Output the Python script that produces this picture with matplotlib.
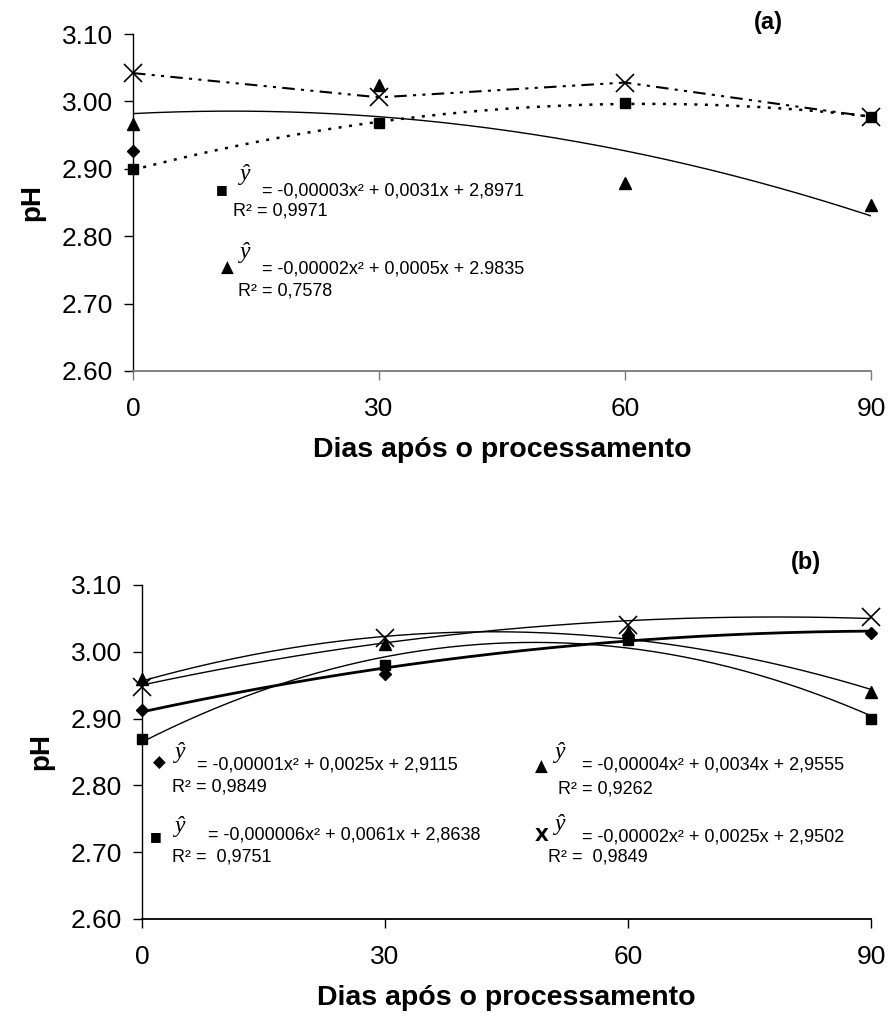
import numpy as np
import matplotlib
matplotlib.use("Agg")
import matplotlib.pyplot as plt

plt.rcParams['font.family'] = ['Liberation Sans', 'DejaVu Sans']

# days after processing
days = [0, 30, 60, 90]

# panel (a) pH values
a_diamond = [2.927, np.nan, np.nan, np.nan]
a_square = [2.899, 2.968, 2.998, 2.977]
a_triangle = [2.966, 3.025, 2.879, 2.846]
a_x = [3.042, 3.006, 3.028, 2.977]

# panel (b) pH values
b_diamond = [2.913, 2.967, 3.025, 3.028]
b_square = [2.869, 2.980, 3.018, 2.900]
b_triangle = [2.960, 3.012, 3.030, 2.940]
b_x = [2.948, 3.020, 3.040, 3.052]

yticks = [2.60, 2.70, 2.80, 2.90, 3.00, 3.10]
xticks = [0, 30, 60, 90]

W, H = 888, 1024
fig = plt.figure(figsize=(W / 100, H / 100), dpi=100)


def px(x, y):
    # pixel position -> figure fraction
    return x / W, 1 - y / H


def setup_axes(rect, bottom_color):
    ax = fig.add_axes(rect)
    ax.set_xlim(0, 90)
    ax.set_ylim(2.6, 3.1)
    ax.set_xticks(xticks)
    ax.set_yticks(yticks)
    ax.set_yticklabels([f"{v:.2f}" for v in yticks])
    for s in ['top', 'right']:
        ax.spines[s].set_visible(False)
    ax.spines['left'].set_linewidth(1.0)
    ax.spines['bottom'].set_linewidth(1.3)
    ax.spines['bottom'].set_color(bottom_color)
    ax.tick_params(axis='y', direction='out', length=6.5, width=1.0, pad=8, labelsize=19)
    ax.tick_params(axis='x', direction='out', length=6.5, width=1.0, pad=12, labelsize=19,
                   color=bottom_color)
    ax.set_xlabel("Dias após o processamento", fontsize=20.5, fontweight='bold', labelpad=12)
    ax.set_ylabel("pH", fontsize=20, fontweight='bold', labelpad=12)
    return ax


def trend(ax, vals, **kw):
    # second-order trendline, as in the original spreadsheet chart
    coef = np.polyfit(days, vals, 2)
    xs = np.linspace(0, 90, 200)
    ax.plot(xs, np.polyval(coef, xs), color='black', **kw)


def markers(ax, vals, marker, size, mew=1.0):
    ax.plot(days, vals, linestyle='none', marker=marker, markersize=size,
            color='black', markeredgewidth=mew, clip_on=False, zorder=5)


# ---------------- panel (a) ----------------
ax1 = setup_axes([133 / W, 1 - 371 / H, 738 / W, 337 / H], '#7a7a7a')
trend(ax1, a_triangle, linewidth=1.0)
trend(ax1, a_square, linewidth=1.8, linestyle=(0, (1.2, 3.0)))
ax1.plot(days, a_x, color='black', linewidth=1.5, dashes=(6, 3, 1.5, 3, 1.5, 3))
markers(ax1, a_diamond, 'D', 6)
markers(ax1, a_square, 's', 7.5)
markers(ax1, a_triangle, '^', 8.5)
markers(ax1, a_x, 'x', 13, 1.2)

# ---------------- panel (b) ----------------
ax2 = setup_axes([142 / W, 1 - 919 / H, 729 / W, 334 / H], 'black')
trend(ax2, b_x, linewidth=1.0)
trend(ax2, b_triangle, linewidth=1.0)
trend(ax2, b_square, linewidth=1.0)
trend(ax2, b_diamond, linewidth=2.0)
markers(ax2, b_diamond, 'D', 6.5)
markers(ax2, b_square, 's', 7.5)
markers(ax2, b_triangle, '^', 8.5)
markers(ax2, b_x, 'x', 13, 1.2)

fig.text(*px(768, 22), "(a)", fontsize=17, fontweight='bold', ha='center', va='center')
fig.text(*px(806, 562), "(b)", fontsize=17, fontweight='bold', ha='center', va='center')

EQ = 13
SYM = ['DejaVu Sans']


def yhat(x, y):
    fig.text(*px(x, y), "ŷ", fontsize=17, family='Liberation Serif', style='italic',
             ha='left', va='baseline')


def eq(x, y, s):
    fig.text(*px(x, y), s, fontsize=EQ, ha='left', va='baseline')


def sym(x, y, s, size=9, weight='normal'):
    fig.text(*px(x, y), s, fontsize=size, family=SYM, fontweight=weight,
             ha='center', va='center')


# equations panel (a)
sym(222, 190, "■", 9)
yhat(240, 180)
eq(262, 195, "= -0,00003x² + 0,0031x + 2,8971")
eq(233, 216, "R² = 0,9971")
sym(227, 268, "▲", 12)
yhat(240, 258)
eq(262, 273, "= -0,00002x² + 0,0005x + 2.9835")
eq(238, 295, "R² = 0,7578")

# equations panel (b)
sym(159, 763, "◆", 12)
yhat(175, 758)
eq(197, 770, "= -0,00001x² + 0,0025x + 2,9115")
eq(172, 792, "R² = 0,9849")
sym(156, 837, "■", 9)
yhat(175, 832)
eq(208, 840, "= -0,000006x² + 0,0061x + 2,8638")
eq(172, 862, "R² =  0,9751")
sym(541, 767, "▲", 12)
yhat(555, 758)
eq(582, 770, "= -0,00004x² + 0,0034x + 2,9555")
eq(558, 793, "R² = 0,9262")
sym(542, 836, "X", 13, 'bold')
yhat(555, 830)
eq(582, 842, "= -0,00002x² + 0,0025x + 2,9502")
eq(548, 862, "R² =  0,9849")

fig.savefig("out.png", dpi=100)
